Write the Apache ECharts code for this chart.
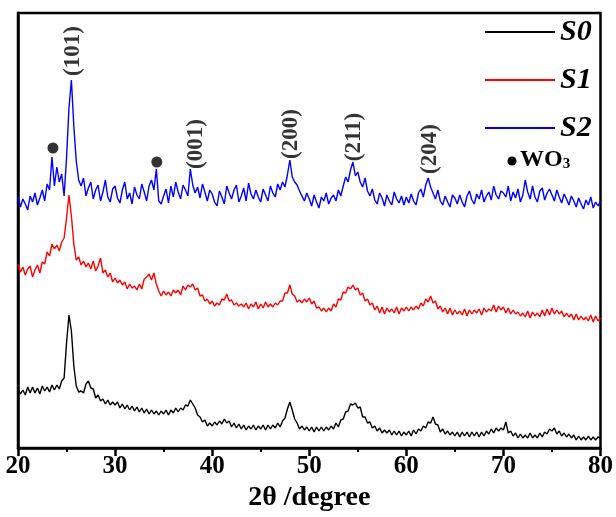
<!DOCTYPE html>
<html>
<head>
<meta charset="utf-8">
<script src="https://cdn.jsdelivr.net/npm/echarts@6/dist/echarts.min.js"></script>
<style>
  html, body { margin: 0; padding: 0; background: #fff; }
  #chart { width: 616px; height: 517px; }
</style>
</head>
<body>
<div id="chart"></div>
<script>
// scan: 20 -> 80 deg, step 0.25
var twoThetaStart = 20;
var twoThetaStep = 0.25;

var s0 = [
  59,54,58,53,61,55,61,55,60,54,62,57,61,56,63,58,63,59,67,70,
  105,133,117,82,62,56,57,55,64,67,60,59,50,53,47,49,44,48,43,46,
  43,46,40,44,39,43,38,42,37,41,36,40,35,39,34,38,34,37,33,37,
  34,38,33,38,35,40,36,40,38,43,42,48,44,40,33,31,26,28,22,25,
  22,26,23,27,24,29,25,27,21,25,20,24,19,23,18,22,19,23,18,22,
  19,23,18,23,19,23,20,25,21,27,30,39,46,38,29,25,19,22,18,21,
  17,21,16,21,17,21,17,21,18,22,19,25,21,28,29,36,37,44,43,45,
  40,41,31,31,25,26,20,22,17,20,15,18,15,18,13,17,13,17,12,16,
  13,17,12,18,14,19,17,22,20,26,25,31,24,23,16,19,14,17,13,16,
  12,16,11,16,12,16,11,16,12,16,11,16,12,17,14,19,15,20,17,20,
  18,26,15,17,12,15,10,14,10,13,10,15,10,13,10,15,11,16,14,19,
  17,20,14,17,12,15,11,14,10,13,8,12,8,11,8,12,8,11,8,11,
  10
];

var s1 = [
  184,176,181,173,179,182,171,178,183,175,186,184,196,192,204,199,203,197,206,210,
  230,253,232,204,188,191,183,187,181,185,179,187,177,182,190,175,178,171,175,166,
  170,165,168,163,166,159,164,160,162,158,164,159,169,171,174,168,175,164,157,152,
  157,153,156,152,158,155,158,153,162,158,163,161,164,158,160,152,153,147,149,144,
  147,142,145,143,149,148,154,147,148,143,145,142,144,141,145,139,144,141,146,139,
  144,140,146,141,144,141,145,143,147,147,155,155,163,154,152,146,148,145,149,146,
  150,144,147,140,141,137,140,136,140,137,144,141,149,148,156,155,161,159,163,158,
  160,153,155,147,149,143,145,138,142,135,141,134,140,136,139,135,141,134,140,137,
  141,137,141,138,142,139,145,142,149,146,152,145,147,139,142,136,140,134,140,133,
  138,134,137,133,139,132,138,134,138,135,139,133,140,136,139,137,143,136,142,138,
  141,135,140,134,138,134,136,132,135,131,137,130,136,132,135,131,138,132,139,133,
  140,134,138,134,137,131,135,131,134,128,134,128,132,128,131,127,133,126,132,127,
  130
];

var s2 = [
  251,241,249,244,238,252,246,255,243,250,258,247,264,258,291,262,281,266,274,252,
  290,340,368,322,287,268,262,270,252,260,266,249,258,263,247,256,268,251,246,259,
  262,250,245,258,266,249,255,244,261,253,249,264,256,247,262,268,258,279,247,244,
  252,259,245,262,251,266,256,249,263,258,252,279,263,255,261,250,264,256,247,258,
  254,246,242,257,251,244,262,255,249,258,263,246,252,260,247,265,254,249,258,251,
  246,259,253,247,262,255,251,264,258,266,261,273,288,271,266,263,257,252,247,255,
  249,242,253,246,240,251,247,255,244,250,253,247,258,252,262,271,266,278,286,272,
  276,266,261,270,257,252,259,248,244,255,250,242,253,247,243,256,249,245,252,243,
  251,245,254,247,243,255,259,251,263,270,261,255,249,258,247,243,252,246,241,253,
  250,244,253,246,241,252,257,248,244,254,249,258,246,252,256,248,262,253,249,257,
  255,251,262,247,256,250,259,246,253,268,256,249,262,251,246,257,260,248,255,259,
  253,247,258,251,245,254,249,243,252,247,241,250,244,239,248,243,251,240,246,242,
  247
];

// WO3 markers on S2
var wo3Angle = [23.6, 34.3];
var wo3Level = [300, 286];

// anatase reflections
var hklNames = ['(101)', '(001)', '(200)', '(211)', '(204)'];
var hklAngle = [25.7, 38.3, 48.1, 54.6, 62.4];
var hklLevel = [397, 304, 314, 311, 299];

var xTicks = [20, 30, 40, 50, 60, 70, 80];

function pairs(arr) {
  return arr.map(function (v, i) { return [twoThetaStart + i * twoThetaStep, v]; });
}

var serif = '"Liberation Serif", "DejaVu Serif", serif';
var chart = echarts.init(document.getElementById('chart'));

chart.setOption({
  animation: false,
  grid: {
    left: 18, right: 13, top: 13, bottom: 69,
    show: true, borderColor: '#000', borderWidth: 2.5, backgroundColor: 'transparent'
  },
  legend: {
    orient: 'vertical',
    left: 480,
    top: 11,
    icon: 'rect',
    itemWidth: 70,
    itemHeight: 2,
    itemGap: 16,
    data: ['S0', 'S1', 'S2'],
    textStyle: {
      fontFamily: serif, fontWeight: 'bold', fontStyle: 'italic',
      fontSize: 30, color: '#000', lineHeight: 32
    }
  },
  xAxis: {
    type: 'value',
    min: 20, max: 80, interval: 10,
    name: '2θ /degree',
    nameLocation: 'middle',
    nameGap: 35,
    nameTextStyle: { fontFamily: serif, fontWeight: 'bold', fontSize: 28, color: '#000' },
    axisLine: { lineStyle: { color: '#000', width: 2.5 } },
    axisTick: { length: 8, lineStyle: { color: '#000', width: 2.5 } },
    minorTick: { show: true, splitNumber: 2, length: 4, lineStyle: { color: '#000', width: 2 } },
    splitLine: { show: false },
    axisLabel: {
      fontFamily: serif, fontWeight: 'bold', fontSize: 25, color: '#000', margin: 6,
      formatter: function (v) { return xTicks.indexOf(v) >= 0 ? String(v) : ''; }
    }
  },
  yAxis: {
    type: 'value',
    min: 0, max: 435,
    axisLine: { show: true, lineStyle: { color: '#000', width: 2.5 } },
    axisTick: { show: false },
    axisLabel: { show: false },
    splitLine: { show: false }
  },
  series: [
    {
      name: 'S0', type: 'line', data: pairs(s0), symbol: 'none',
      lineStyle: { color: '#000', width: 1.4 }, itemStyle: { color: '#000' }
    },
    {
      name: 'S1', type: 'line', data: pairs(s1), symbol: 'none',
      lineStyle: { color: '#ff0000', width: 1.4 }, itemStyle: { color: '#ff0000' }
    },
    {
      name: 'S2', type: 'line', data: pairs(s2), symbol: 'none',
      lineStyle: { color: '#0000ff', width: 1.4 }, itemStyle: { color: '#0000ff' }
    },
    {
      name: 'WO3', type: 'scatter', symbol: 'circle', symbolSize: 11,
      itemStyle: { color: '#000' },
      data: wo3Angle.map(function (a, i) { return [a, wo3Level[i]]; })
    },
    {
      name: 'hkl', type: 'scatter', symbolSize: 0, silent: true,
      data: hklAngle.map(function (a, i) { return { value: [a, hklLevel[i]], name: hklNames[i] }; }),
      label: {
        show: true, position: 'inside', rotate: 90,
        formatter: '{b}',
        fontFamily: serif, fontWeight: 'bold', fontSize: 23, color: '#000'
      }
    }
  ],
  graphic: [
    { type: 'circle', shape: { cx: 512, cy: 161, r: 4.5 }, style: { fill: '#000' } },
    {
      type: 'text', left: 520, top: 148,
      style: {
        text: '{a|WO}{b|3}',
        rich: {
          a: { fontFamily: serif, fontWeight: 'bold', fontSize: 24, fill: '#000' },
          b: { fontFamily: serif, fontWeight: 'bold', fontSize: 15, fill: '#000', padding: [9, 0, 0, 0] }
        }
      }
    }
  ]
});
</script>
</body>
</html>
